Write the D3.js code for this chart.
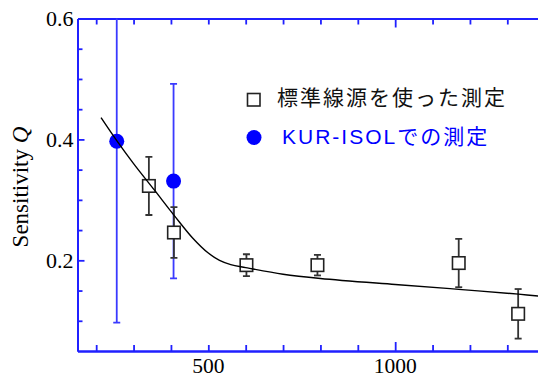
<!DOCTYPE html>
<html>
<head>
<meta charset="utf-8">
<script src="https://cdn.jsdelivr.net/npm/d3@7"></script>
<style>
html,body{margin:0;padding:0;background:#fff;}
svg{display:block;}
</style>
</head>
<body>
<svg id="chart" width="538" height="377"></svg>
<script>
// ---- data ----
const stdEnergy = [341, 408, 602, 792, 1170, 1329];
const stdQ      = [0.323, 0.246, 0.192, 0.192, 0.1955, 0.1115];
const stdErr    = [0.048, 0.042, 0.018, 0.017, 0.040, 0.041];

const isolEnergy = [255, 407];
const isolQ      = [0.397, 0.331];
const isolErr    = [0.300, 0.161];

const fitEnergy = [213, 255, 300, 356, 409, 458, 500, 530, 560, 600, 700, 800, 1000, 1170, 1330, 1400];
const fitQ      = [0.436, 0.398, 0.360, 0.316, 0.274, 0.237, 0.212, 0.200, 0.193, 0.188, 0.177, 0.170, 0.160, 0.152, 0.144, 0.140];

const xMinorTicks = [200, 300, 400, 500, 600, 700, 800, 900, 1100, 1200, 1300];
const xMajorTicks = [1000];
const xTickLabels = [500, 1000];
const yMinorTicks = [0.1, 0.15, 0.25, 0.3, 0.35, 0.45, 0.5, 0.55];
const yMajorTicks = [0.2, 0.4];
const yTickLabels = [0.2, 0.4, 0.6];

const legendLabels = ["標準線源を使った測定", "KUR-ISOLでの測定"];
const yTitle = "Sensitivity ";
const yTitleItalic = "Q";

// ---- layout ----
const svg = d3.select("#chart");
const pLeft = 77.5, pTop = 18.5, pBottom = 351;
const x = d3.scaleLinear().domain([150, 1400]).range([pLeft, pLeft + 1250 * 0.37375]);
const y = d3.scaleLinear().domain([0.05, 0.6]).range([pBottom, pTop]);

const axisColor = "#2020ff";
const serif = "'Liberation Serif','Times New Roman',serif";

svg.append("defs").append("clipPath").attr("id", "plotclip")
  .append("rect").attr("x", pLeft).attr("y", pTop).attr("width", 538 - pLeft).attr("height", pBottom - pTop);

function styleAxis(g) {
  g.selectAll("path.domain").attr("stroke", axisColor).attr("stroke-width", 2);
  g.selectAll(".tick line").attr("stroke", axisColor).attr("stroke-width", 1.8);
  g.selectAll(".tick text").remove();
}

// bottom axis
svg.append("g").attr("transform", `translate(0,${pBottom})`)
  .call(d3.axisBottom(x).tickValues(xMinorTicks).tickSizeInner(-6).tickSizeOuter(0)).call(styleAxis);
svg.append("g").attr("transform", `translate(0,${pBottom})`)
  .call(d3.axisBottom(x).tickValues(xMajorTicks).tickSizeInner(-9).tickSizeOuter(0)).call(styleAxis);
// top axis
svg.append("g").attr("transform", `translate(0,${pTop})`)
  .call(d3.axisTop(x).tickValues(xMinorTicks).tickSizeInner(-6).tickSizeOuter(0)).call(styleAxis);
svg.append("g").attr("transform", `translate(0,${pTop})`)
  .call(d3.axisTop(x).tickValues(xMajorTicks).tickSizeInner(-9).tickSizeOuter(0)).call(styleAxis);
// left axis
svg.append("g").attr("transform", `translate(${pLeft},0)`)
  .call(d3.axisLeft(y).tickValues(yMinorTicks).tickSizeInner(-5).tickSizeOuter(0)).call(styleAxis);
svg.append("g").attr("transform", `translate(${pLeft},0)`)
  .call(d3.axisLeft(y).tickValues(yMajorTicks).tickSizeInner(-7).tickSizeOuter(0)).call(styleAxis);

// tick labels
svg.append("g").selectAll("text").data(xTickLabels).join("text")
  .attr("x", d => x(d)).attr("y", 372.5)
  .attr("text-anchor", "middle")
  .attr("font-family", serif).attr("font-size", 21.5).attr("fill", "#000")
  .text(d => d);
svg.append("g").selectAll("text").data(yTickLabels).join("text")
  .attr("x", 73.5).attr("y", d => y(d) + 7.5)
  .attr("text-anchor", "end")
  .attr("font-family", serif).attr("font-size", 22).attr("fill", "#000")
  .text(d => d.toFixed(1));

// y title
const yt = svg.append("text")
  .attr("transform", `translate(28,187) rotate(-90)`)
  .attr("text-anchor", "middle")
  .attr("font-family", serif).attr("font-size", 23).attr("fill", "#000");
yt.append("tspan").text(yTitle);
yt.append("tspan").attr("font-style", "italic").text(yTitleItalic);

// plot content
const plot = svg.append("g").attr("clip-path", "url(#plotclip)");
const isol = isolEnergy.map((e, i) => ({e, q: isolQ[i], err: isolErr[i]}));
const std = stdEnergy.map((e, i) => ({e, q: stdQ[i], err: stdErr[i]}));
const cap = 3.5;

function errorBars(g, data, color) {
  const eb = g.append("g").attr("stroke", color).attr("stroke-width", 1.8).attr("fill", "none");
  eb.selectAll("line.v").data(data).join("line").attr("class", "v")
    .attr("x1", d => x(d.e)).attr("x2", d => x(d.e))
    .attr("y1", d => y(d.q + d.err)).attr("y2", d => y(d.q - d.err));
  eb.selectAll("line.t").data(data).join("line").attr("class", "t")
    .attr("x1", d => x(d.e) - cap).attr("x2", d => x(d.e) + cap)
    .attr("y1", d => y(d.q + d.err)).attr("y2", d => y(d.q + d.err));
  eb.selectAll("line.b").data(data).join("line").attr("class", "b")
    .attr("x1", d => x(d.e) - cap).attr("x2", d => x(d.e) + cap)
    .attr("y1", d => y(d.q - d.err)).attr("y2", d => y(d.q - d.err));
}

errorBars(plot, isol, "#3a3aff");
plot.append("g").selectAll("circle").data(isol).join("circle")
  .attr("cx", d => x(d.e)).attr("cy", d => y(d.q)).attr("r", 7.5).attr("fill", "#0000ff");
errorBars(plot, std, "#333");
const sq = 12.5;
plot.append("g").selectAll("rect").data(std).join("rect")
  .attr("x", d => x(d.e) - sq / 2).attr("y", d => y(d.q) - sq / 2)
  .attr("width", sq).attr("height", sq)
  .attr("fill", "#fff").attr("stroke", "#222").attr("stroke-width", 1.6);

const fit = fitEnergy.map((e, i) => [e, fitQ[i]]);
plot.append("path").datum(fit)
  .attr("d", d3.line().x(d => x(d[0])).y(d => y(d[1])).curve(d3.curveCatmullRom.alpha(0.5)))
  .attr("fill", "none").attr("stroke", "#000").attr("stroke-width", 1.4);

// legend
const lg = svg.append("g");
lg.append("rect").attr("x", 247.5).attr("y", 93.5).attr("width", 12.5).attr("height", 12.5)
  .attr("fill", "#fff").attr("stroke", "#222").attr("stroke-width", 1.6);
lg.append("circle").attr("cx", 254).attr("cy", 137.5).attr("r", 7.5).attr("fill", "#0000ff");
const lfont = "'Liberation Sans','Noto Sans CJK JP',sans-serif";
lg.append("text").attr("x", 277).attr("y", 104.5)
  .attr("font-family", lfont).attr("font-size", 21).attr("fill", "#111")
  .attr("letter-spacing", 2)
  .text(legendLabels[0]);
lg.append("text").attr("x", 282).attr("y", 143.5)
  .attr("font-family", lfont).attr("font-size", 21).attr("fill", "#0000ff")
  .attr("letter-spacing", 2)
  .text(legendLabels[1]);
</script>
</body>
</html>
